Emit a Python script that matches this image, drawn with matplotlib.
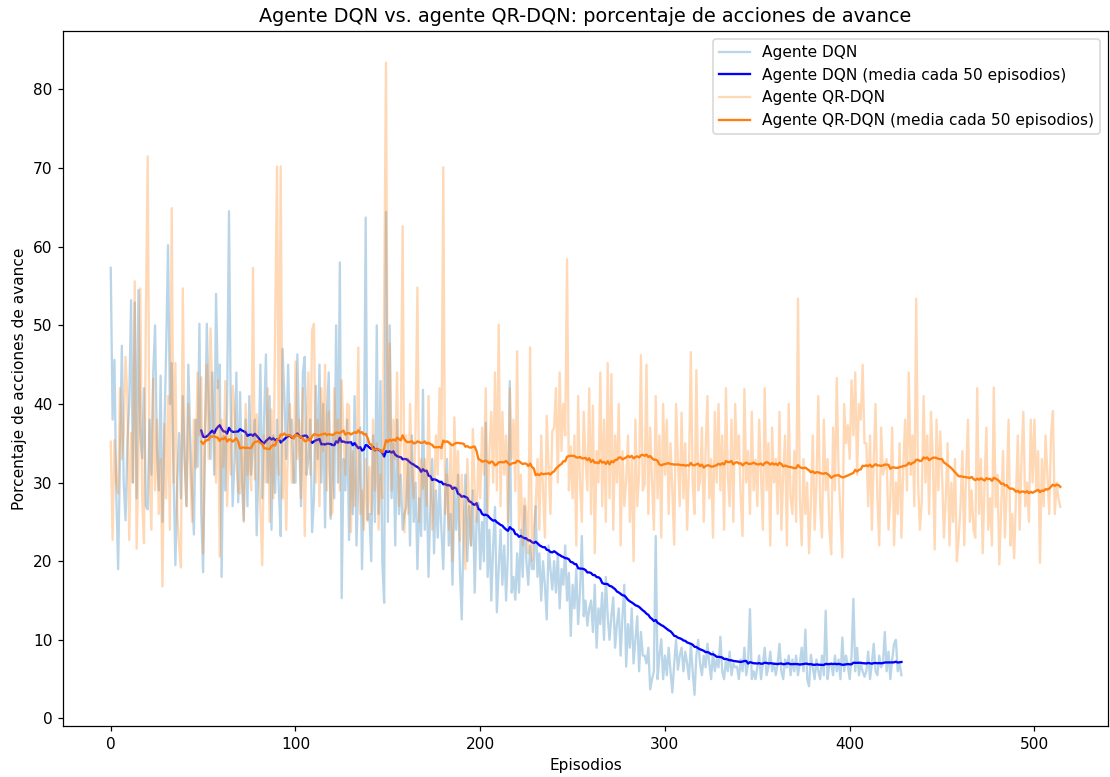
import numpy as np
import pandas as pd
import matplotlib
matplotlib.use('Agg')
import matplotlib.pyplot as plt

# % of forward actions per episode
dqn = [57.3, 38, 45.6, 28.6, 19, 33, 47.4, 30, 25.2, 35,
       40, 53.2, 30, 52.9, 28, 54.5, 36, 33.1, 42, 27,
       26.6, 38, 31, 44, 50, 34, 29, 43.6, 25, 36,
       47, 60.2, 40, 45.2, 31, 19.5, 30, 36.3, 28, 41,
       33, 27, 45, 36, 29, 23.4, 38, 32, 50.2, 26,
       18.6, 35, 50.2, 40, 33, 44, 31, 54, 42, 45,
       18, 36, 29, 40, 64.5, 38, 27, 33, 44, 27.5,
       41.5, 30, 25.2, 38, 27, 41, 31, 35, 38, 23.3,
       33, 45, 28, 38, 46.3, 30, 41, 24, 36, 28.7,
       38, 29, 23.2, 47, 40.8, 33, 45, 36, 38, 30,
       30, 46.3, 36, 27, 44, 46, 31, 33, 38, 23.7,
       28, 42.3, 33, 45, 30, 40, 24.3, 38, 44, 25.4,
       36, 28, 50, 30, 58, 15.3, 33, 29, 38, 22.7,
       35, 26, 41, 22, 30, 37, 19, 31, 63.7, 25.3,
       26, 20, 36, 25, 50, 26, 42.9, 20, 14.7, 64.4,
       25, 50, 28, 35, 22, 38, 26, 31, 24, 26,
       27, 33, 22, 36, 25, 30, 19, 28, 23.2, 41.8,
       24, 31, 18, 27, 33, 21, 29, 23, 30, 24,
       19, 28, 33, 22, 26, 17, 29, 24, 31, 19,
       12.6, 24, 31, 20, 27, 22, 29, 16, 25, 27.4,
       19, 25, 20, 37.6, 18, 24, 15, 22, 26.9, 13.5,
       19, 24, 17, 22, 15, 21, 42.9, 16, 18, 15.1,
       21, 16, 24, 18, 27, 20, 17, 22, 19, 19,
       27, 18, 21, 15, 20, 17, 12.6, 22, 19, 16.4,
       20, 16, 21, 14, 19, 17, 22, 15, 18.5, 10.5,
       17, 14, 19, 12, 16, 23.2, 13, 15, 11.8, 14,
       15, 11, 17, 9, 14, 12, 16, 10, 18, 13,
       10, 13, 15.4, 9, 12, 14, 8, 13, 17, 6.6,
       12, 9, 14, 7, 10, 13, 6, 11, 8, 8,
       7, 9, 3.7, 5, 6, 23.2, 5, 8, 10.1, 5,
       8, 5.5, 9, 6, 3.3, 7, 10, 6.2, 8, 9,
       6, 8.5, 7, 5, 9.5, 6, 3, 8, 10, 7,
       5.5, 8, 6.5, 9.5, 7, 5, 8.5, 6, 7.5, 6.5,
       10.4, 6, 5, 7.5, 6, 8.5, 5.5, 7, 6.5, 6.6,
       5, 7.5, 6, 9, 5.5, 7, 13.9, 5, 6, 5,
       6.5, 8, 5, 7, 9, 5.5, 6.5, 8.5, 6, 7,
       5.5, 7, 9.5, 6, 5, 7.5, 6.5, 8, 5.5, 7.5,
       6, 8, 5.5, 7, 9, 6, 11.3, 5, 4.1, 8.1,
       6.5, 5, 7.5, 6, 5, 8, 5.5, 13.7, 5, 6.8,
       7, 5.5, 8, 6, 7.5, 5, 10.3, 6, 8, 6.7,
       5, 8, 15.2, 6, 9, 5.5, 7, 6, 5.3, 6,
       8.5, 5, 7, 9.5, 6, 5.5, 8, 6.5, 7, 11,
       6, 8.5, 5, 7.5, 9.5, 10, 6, 7, 5.5]

qrdqn = [35.2, 22.7, 35.4, 30, 28.6, 42, 33, 36.3, 46, 40.8,
         22.7, 36.3, 30, 55.6, 21.6, 33, 54.7, 28, 22.3, 50.8,
         71.5, 31, 24, 43.2, 29, 38, 26, 33, 16.8, 37.5,
         28, 41, 24, 64.9, 30, 45.2, 26, 22, 19.2, 54.7,
         33, 27, 40, 31.8, 25, 38, 31.8, 44, 36, 43.4,
         21, 37, 45, 33, 49.6, 40.8, 35, 30, 43, 20.6,
         38, 32, 42.9, 27, 36, 31, 42.3, 39, 33, 28.8,
         28.6, 36, 25, 40, 31, 34, 29, 57.3, 30.4, 38.7,
         33, 27, 19.5, 36, 30, 42, 25, 39.3, 28, 50.2,
         70.2, 31, 70.2, 28, 35, 24, 36.6, 40, 30, 30,
         45.4, 33, 38, 28, 42, 23.2, 36, 44, 31, 49.4,
         50.2, 30, 38, 27, 42, 34, 45, 29, 39, 25.8,
         26.2, 42, 35, 38, 29, 43, 36, 31, 40, 39.8,
         23.7, 34, 27, 31, 47.2, 26, 29, 24, 33, 25.1,
         32, 26, 38, 29, 35, 24, 31, 28, 53.6, 83.4,
         34, 47.7, 29, 38, 33, 44, 27, 36, 62.6, 23.7,
         36, 26, 40, 31, 28, 37, 54.8, 25, 33, 29.2,
         33, 27, 41, 30, 24, 28, 36, 31, 42, 33,
         70.1, 26, 31, 24, 35, 20, 38.3, 29, 34, 22.6,
         31, 24, 19, 33, 27, 22, 36.8, 29, 25, 33.2,
         28, 37, 31, 42, 26, 34, 39, 30, 44, 29,
         50.1, 27, 39, 31, 36, 25, 42, 33, 38, 28.9,
         46.7, 24, 31, 22, 28, 26, 21, 47.2, 20, 24.1,
         27, 33, 24, 36, 29, 23, 38.5, 32, 26, 36.5,
         37, 42, 30, 44, 34, 40, 36, 58.4, 29, 34.6,
         28, 36, 22, 41, 30, 25, 39, 33, 29, 42,
         26, 39.8, 21, 34, 30, 44, 27, 38, 25, 45.2,
         28, 43.8, 24, 36, 30, 40, 22, 34, 27, 30.2,
         36, 25, 33, 20, 38, 27, 31, 46.2, 29, 29.8,
         45, 26, 37, 30, 24, 41, 28, 36, 23, 40,
         31, 38, 26, 35, 29, 22.1, 40, 33, 27, 38.9,
         28, 35, 24, 32, 46.6, 30, 26, 44.3, 29, 30.1,
         37, 25, 34, 41, 28, 33, 23, 39, 30, 40,
         29, 36, 24, 42, 31, 27, 38, 25, 40, 33,
         36, 28, 23.2, 41.9, 30, 34, 26, 39, 29, 32.9,
         27, 38, 31, 24, 42, 29, 35, 22, 37, 30,
         33, 26, 39, 24, 31, 36, 22, 40, 28, 26,
         34, 25, 53.4, 28, 22, 33, 26, 30, 21, 27.6,
         36, 24, 30, 41, 27, 23, 38, 29, 33, 24,
         20.9, 37, 29, 43.3, 31, 26, 20.5, 40, 35, 37.3,
         33, 43, 36, 44, 31, 40, 38, 45, 35, 35,
         27, 36, 24, 33, 40, 28, 22, 37, 31, 32,
         33, 24, 28, 37, 22, 30, 26, 35, 23, 32,
         38, 29, 44, 31, 36, 27, 53.4, 30, 24, 27.6,
         41, 30, 36, 26, 39, 33, 21.5, 38, 29, 36.5,
         31, 23, 28, 35, 22, 30, 25, 33, 20, 23,
         27, 34, 22, 31, 38, 25, 29, 24, 23, 42,
         26, 33, 21, 30, 37, 24, 28, 22, 42.1, 26.9,
         31, 19.6, 27, 34, 23, 29, 38, 22, 26, 20.4,
         28, 36, 24, 33, 39, 27, 30, 25, 38, 30,
         38, 29, 34, 19.8, 33, 27, 36, 31, 26, 36.2,
         39.1, 26, 30, 28, 26.9]

window = 50

dqn_s = pd.Series(dqn)
qr_s = pd.Series(qrdqn)
dqn_mean = dqn_s.rolling(window).mean()
qr_mean = qr_s.rolling(window).mean()

fig, ax = plt.subplots(figsize=(10, 7), dpi=111)
fig.subplots_adjust(left=0.057, right=0.998, top=0.96, bottom=0.065)

ax.plot(dqn_s.index, dqn_s, color='tab:blue', alpha=0.3, label='Agente DQN')
ax.plot(dqn_mean.index, dqn_mean, color='blue',
        label='Agente DQN (media cada 50 episodios)')
ax.plot(qr_s.index, qr_s, color='tab:orange', alpha=0.3, label='Agente QR-DQN')
ax.plot(qr_mean.index, qr_mean, color='tab:orange',
        label='Agente QR-DQN (media cada 50 episodios)')

ax.set_xlabel('Episodios')
ax.set_ylabel('Porcentaje de acciones de avance')
ax.set_title('Agente DQN vs. agente QR-DQN: porcentaje de acciones de avance',
             fontsize=12.5)
ax.legend(loc='upper right')

fig.savefig('out.png', dpi=111)
